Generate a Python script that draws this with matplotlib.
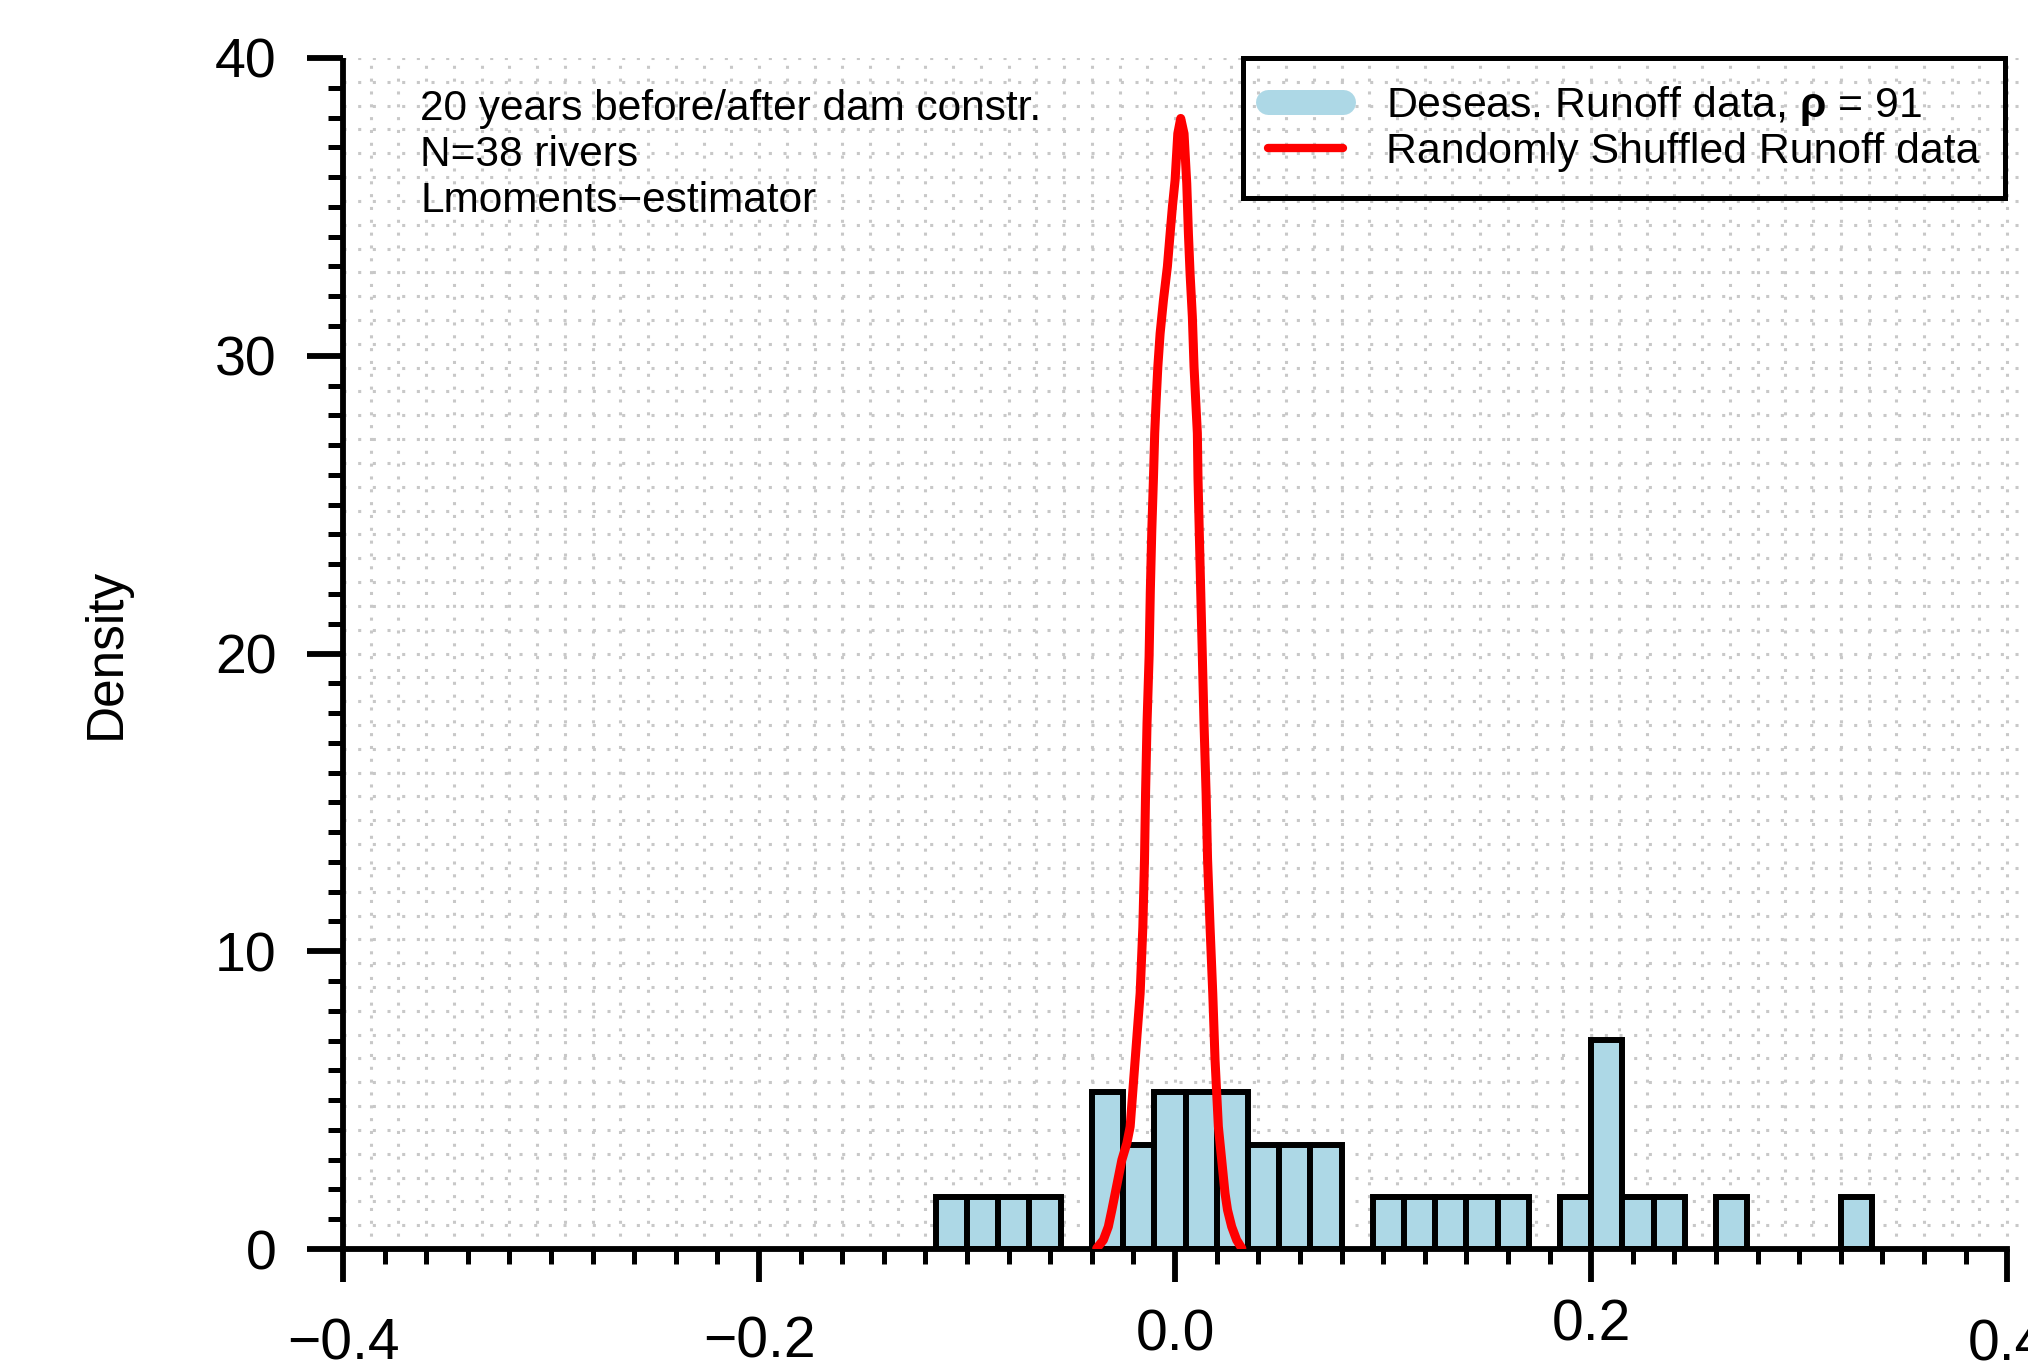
import numpy as np
import matplotlib
matplotlib.use("Agg")
import matplotlib.pyplot as plt
from matplotlib.lines import Line2D
from matplotlib.ticker import MultipleLocator, FixedLocator
import matplotlib.transforms as mtransforms

plt.rcParams['font.family'] = ['Liberation Sans', 'DejaVu Sans']
plt.rcParams['mathtext.fontset'] = 'custom'
plt.rcParams['mathtext.rm'] = 'Liberation Sans'
plt.rcParams['mathtext.bf'] = 'Liberation Sans:bold'

# ---------------- data ----------------
n_rivers = 38
bin_width = 0.015
bin_left_edges = [-0.115, -0.100, -0.085, -0.070, -0.055, -0.040, -0.025, -0.010,
                  0.005, 0.020, 0.035, 0.050, 0.065, 0.080, 0.095, 0.110, 0.125,
                  0.140, 0.155, 0.170, 0.185, 0.200, 0.215, 0.230, 0.245, 0.260,
                  0.275, 0.290, 0.305, 0.320]
bin_counts = [1, 1, 1, 1, 0, 3, 2, 3, 3, 3, 2, 2, 2, 0, 1, 1, 1, 1, 1, 0,
              1, 4, 1, 1, 0, 1, 0, 0, 0, 1]

shuffled_x = [-0.0377, -0.0345, -0.0321, -0.0304, -0.0288, -0.0272, -0.0256, -0.0232,
              -0.0216, -0.0204, -0.0192, -0.0168, -0.0155, -0.0147, -0.0142, -0.0135,
              -0.0125, -0.0119, -0.0112, -0.0104, -0.0098, -0.0091, -0.0083, -0.0072,
              -0.0056, -0.0037, -0.0024, -0.0013, 0.0000, 0.0013, 0.0027,
              0.0043, 0.0056, 0.0064, 0.0072, 0.0083, 0.0091, 0.0099, 0.0107, 0.0110,
              0.0116, 0.0123, 0.0131, 0.0139, 0.0149, 0.0156, 0.0168, 0.0181, 0.0192,
              0.0200, 0.0208, 0.0224, 0.0240, 0.0252, 0.0272, 0.0296, 0.0321]
shuffled_density = [0.02, 0.30, 0.75, 1.31, 1.87, 2.43, 2.99, 3.55,
                    4.11, 5.23, 6.35, 8.59, 10.82, 13.1, 15.3, 17.65,
                    19.89, 22.13, 24.14, 25.9, 27.4, 28.5, 29.63, 30.75,
                    31.87, 33.0, 34.1, 35.0, 35.9, 37.46, 37.97,
                    37.46, 35.79, 34.1, 32.76, 31.3, 29.63, 28.5, 27.4, 25.9,
                    24.14, 22.13, 19.89, 17.65, 15.3, 13.1, 10.82, 8.59, 6.35,
                    5.23, 4.11, 2.99, 1.87, 1.31, 0.75, 0.30, 0.02]

xtick_values = [-0.4, -0.2, 0.0, 0.2, 0.4]
xtick_labels = ['\u22120.4', '\u22120.2', '0.0', '0.2', '0.4']
xtick_label_yoff = [-0.0800, -0.0785, -0.0725, -0.0645, -0.0810]
ytick_values = [0, 10, 20, 30, 40]

annotation_lines = ["20 years before/after dam constr.", "N=38 rivers", "Lmoments\u2212estimator"]
legend_labels = [r"Deseas. Runoff data, $\mathbf{\rho}$ = 91", "Randomly Shuffled Runoff data"]

# ---------------- figure ----------------
fig = plt.figure(figsize=(20.28, 13.69), dpi=100)
ax = fig.add_axes([343/2028, 1-1249/1369, (2028-343)/2028, (1249-58)/1369])
ax.set_xlim(-0.4, 0.41)
ax.set_ylim(0, 40)
ax.set_facecolor('white')

# dotted background grid (nx=60, ny=50)
grid_x = np.arange(0, 61) * (0.8 / 60) - 0.4
grid_y = np.arange(0, 51) * 0.8
for gx in grid_x[1:]:
    ax.axvline(gx, color='#c8c8c8', lw=2.2, ls=(0, (1, 3.2)), zorder=0)
for gy in grid_y[1:]:
    ax.axhline(gy, color='#c8c8c8', lw=2.2, ls=(0, (1, 3.8)), zorder=0)

# histogram
density = np.array(bin_counts) / (n_rivers * bin_width)
mask = density > 0
ax.bar(np.array(bin_left_edges)[mask], density[mask], width=bin_width, align='edge',
       color='lightblue', edgecolor='black', linewidth=4.3, zorder=2)

# red density curve
ax.plot(shuffled_x, shuffled_density, color='red', lw=6.5, zorder=3,
        solid_capstyle='round', solid_joinstyle='round')

# spines and ticks
for s in ['top', 'right']:
    ax.spines[s].set_visible(False)
ax.spines['left'].set_linewidth(4.2)
ax.spines['bottom'].set_linewidth(4.2)
ax.spines['bottom'].set_bounds(-0.4, 0.4)
ax.spines['left'].set_bounds(0, 40)
ax.spines['left'].set_capstyle('butt')

ax.xaxis.set_major_locator(FixedLocator(xtick_values))
ax.xaxis.set_minor_locator(FixedLocator(np.round(np.arange(-0.4, 0.4001, 0.02), 3)))
ax.yaxis.set_major_locator(FixedLocator(ytick_values))
ax.yaxis.set_minor_locator(MultipleLocator(1))
ax.tick_params(axis='x', which='major', direction='out', length=24, width=4.2,
               labelbottom=False)
ax.tick_params(axis='x', which='minor', direction='out', length=11, width=3.6)
ax.tick_params(axis='y', which='major', direction='out', length=26, width=4.2,
               labelsize=40, pad=22)
ax.tick_params(axis='y', which='minor', direction='out', length=11, width=3.6)

trans = mtransforms.blended_transform_factory(ax.transData, ax.transAxes)
for xv, lab, yo in zip(xtick_values, xtick_labels, xtick_label_yoff):
    ax.text(xv, yo, lab, transform=trans, ha='center', va='center', fontsize=41,
            clip_on=False)

fig.text(106/2028, 1-653/1369, "Density", rotation=90, ha='center', va='center',
         fontsize=37)

# annotation
for i, line in enumerate(annotation_lines):
    ax.text(420/2028, 1 - (109 + 46*i)/1369, line, transform=fig.transFigure,
            ha='left', va='center', fontsize=30.5)

# legend
handles = [Line2D([], [], color='lightblue', lw=18, solid_capstyle='round'),
           Line2D([], [], color='red', lw=6, solid_capstyle='round')]
leg = ax.legend(handles, legend_labels, loc='upper right',
                bbox_to_anchor=(2005/2028, 1-58/1369), bbox_transform=fig.transFigure,
                fontsize=30.8, frameon=True, fancybox=False, framealpha=1,
                facecolor='none', edgecolor='black', borderpad=0.6,
                handlelength=1.75, handletextpad=1.0, labelspacing=0.1,
                borderaxespad=0)
leg.get_frame().set_linewidth(3.6)
leg.set_zorder(5)

fig.savefig("out.png", dpi=100)
